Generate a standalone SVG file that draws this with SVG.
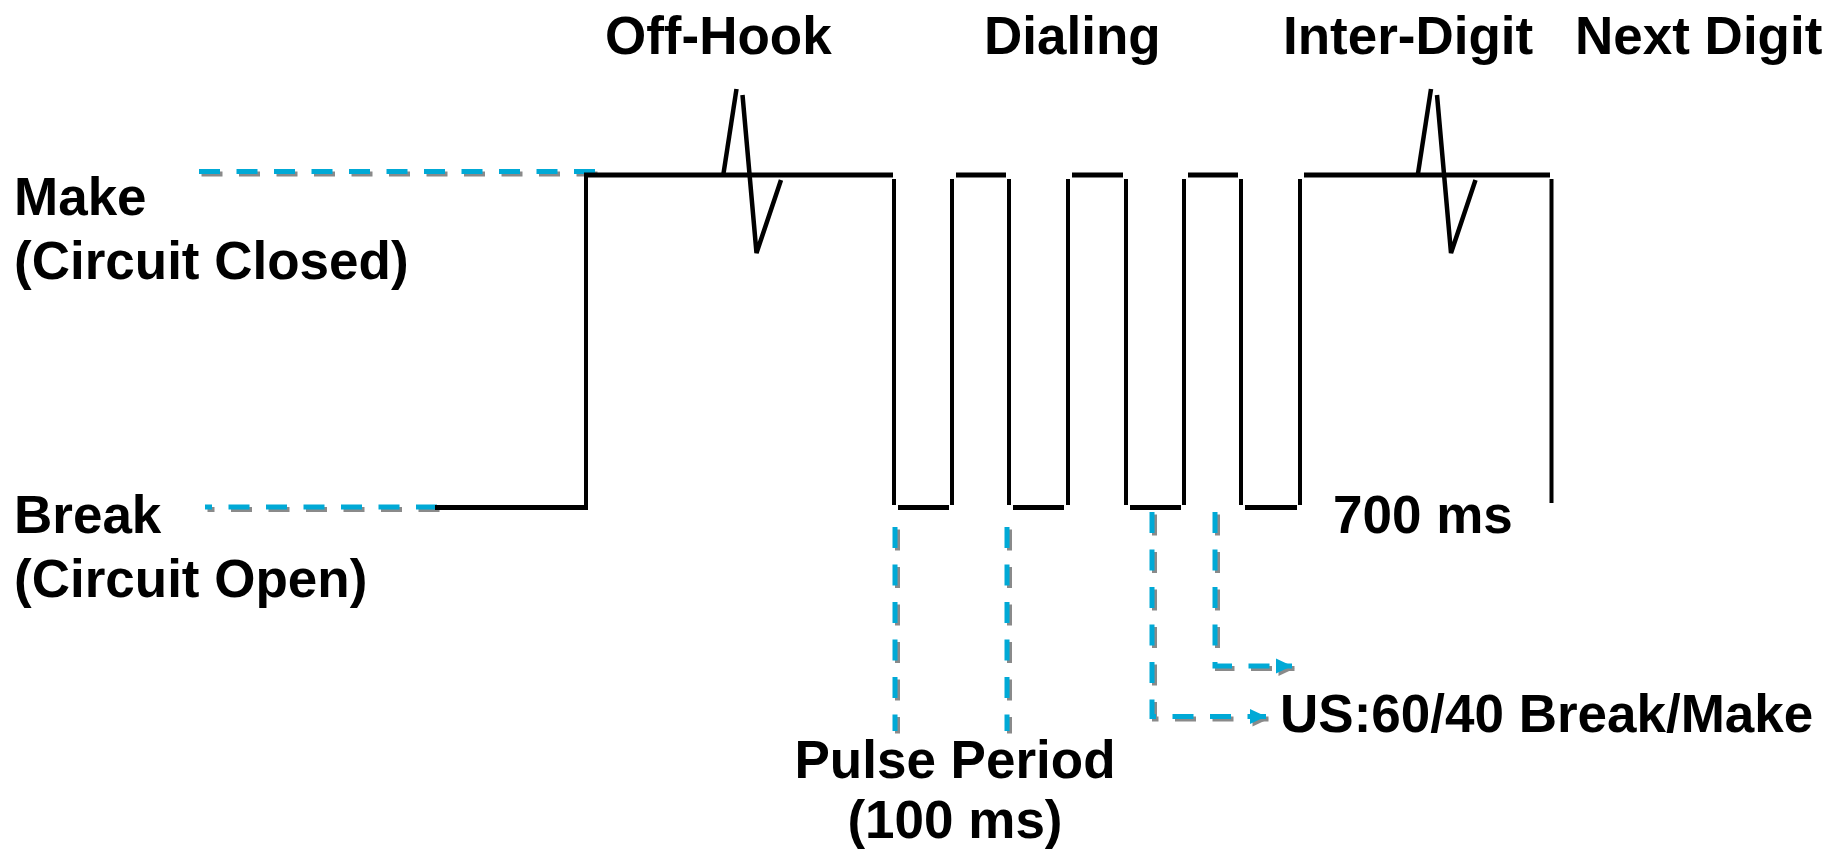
<svg xmlns="http://www.w3.org/2000/svg" width="1828" height="854" viewBox="0 0 1828 854">
<style>
text{font-family:"Liberation Sans",Arial,sans-serif;font-weight:bold;font-size:53px;fill:#000}
.h{stroke:#000;stroke-width:5;fill:none}
.v{stroke:#000;stroke-width:4;fill:none}
.sp{stroke:#000;stroke-width:4.5;fill:none;stroke-linejoin:miter}
.db{stroke:#00A9D6;stroke-width:5;fill:none;stroke-dasharray:21 16.5}
.ds{stroke:#8a8a8a;stroke-width:5;fill:none;stroke-dasharray:21 16.5}
</style>
<defs>
<marker id="ab" markerUnits="userSpaceOnUse" markerWidth="18" markerHeight="16" refX="17" refY="8" orient="auto"><path d="M1,0.5 L17,8 L1,15.5 z" fill="#00A9D6"/></marker>
<marker id="as" markerUnits="userSpaceOnUse" markerWidth="18" markerHeight="16" refX="17" refY="8" orient="auto"><path d="M1,0.5 L17,8 L1,15.5 z" fill="#8a8a8a"/></marker>
</defs>
<rect width="1828" height="854" fill="#fff"/>
<g id="connectors">
<g transform="translate(2.5,2.5)">
<path class="ds" d="M595 171.5 H199"/>
<path class="ds" d="M437 507 H205"/>
<path class="ds" d="M895 527 V731"/>
<path class="ds" d="M1007 527 V731"/>
<path class="ds" d="M1152 512 V716.5 H1266" marker-end="url(#as)"/>
<path class="ds" d="M1215 512 V666 H1292" marker-end="url(#as)"/>
</g>
<path class="db" d="M595 171.5 H199"/>
<path class="db" d="M437 507 H205"/>
<path class="db" d="M895 527 V731"/>
<path class="db" d="M1007 527 V731"/>
<path class="db" d="M1152 512 V716.5 H1266" marker-end="url(#ab)"/>
<path class="db" d="M1215 512 V666 H1292" marker-end="url(#ab)"/>
</g>
<g id="waveform">
<path class="h" d="M435 507.5 H588"/>
<path class="v" d="M586 175 V507"/>
<path class="h" d="M584 175 H893"/>
<path class="v" d="M894 179 V505"/>
<path class="h" d="M898 507.5 H949"/>
<path class="v" d="M952 179 V505"/>
<path class="h" d="M956 175 H1006"/>
<path class="v" d="M1009 179 V505"/>
<path class="h" d="M1013 507.5 H1064"/>
<path class="v" d="M1068 179 V505"/>
<path class="h" d="M1072 175 H1123"/>
<path class="v" d="M1126 179 V505"/>
<path class="h" d="M1130 507.5 H1181"/>
<path class="v" d="M1184 179 V505"/>
<path class="h" d="M1188 175 H1238"/>
<path class="v" d="M1241 179 V505"/>
<path class="h" d="M1245 507.5 H1297"/>
<path class="v" d="M1300 179 V505"/>
<path class="h" d="M1304 175 H1550"/>
<path class="v" d="M1551.5 179 V503"/>
</g>
<g id="spike-offhook">
<path class="sp" d="M723.5 173.5 L736.5 89"/>
<path class="sp" d="M742.5 95 L756.5 253 L781 180"/>
</g>
<g id="spike-interdigit">
<path class="sp" d="M1418 173.5 L1431 89"/>
<path class="sp" d="M1437 95 L1451 253 L1475.5 180"/>
</g>
<g id="labels">
<text x="605" y="54">Off-Hook</text>
<text x="984" y="54">Dialing</text>
<text x="1283" y="54">Inter-Digit</text>
<text x="1575" y="54">Next Digit</text>
<text x="14" y="215">Make</text>
<text x="14" y="279">(Circuit Closed)</text>
<text x="14" y="533">Break</text>
<text x="14" y="597">(Circuit Open)</text>
<text x="1333" y="533">700 ms</text>
<text x="1280" y="732">US:60/40 Break/Make</text>
<text x="955" y="778" text-anchor="middle">Pulse Period</text>
<text x="955" y="838" text-anchor="middle">(100 ms)</text>
</g>
</svg>
